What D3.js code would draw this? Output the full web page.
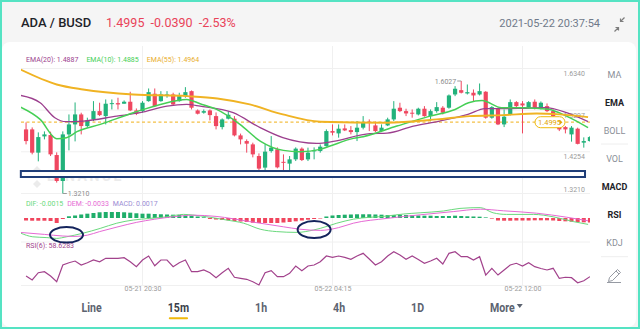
<!DOCTYPE html>
<html><head><meta charset="utf-8">
<script src="https://cdn.jsdelivr.net/npm/d3@7"></script>
<style>
html,body{margin:0;padding:0;background:#f5f5f5;}
svg{display:block;font-family:Roboto,"Noto Sans",sans-serif;}
</style></head><body>
<svg id="chart" width="640" height="329"></svg>
<script>
// ADA/BUSD 15m candles (index 0..92)
const opens = [1.4815,1.4815,1.4233,1.4640,1.4673,1.4173,1.3523,1.4690,1.4940,1.5190,
1.4898,1.5065,1.5273,1.5148,1.5448,1.5473,1.5458,1.5508,1.5290,1.5273,
1.5523,1.5708,1.5523,1.5658,1.5690,1.5523,1.5648,1.5773,1.5290,1.5233,
1.5290,1.5148,1.4873,1.5083,1.5083,1.4665,1.4523,1.4440,1.4148,1.3858,
1.4273,1.4315,1.4003,1.3958,1.4065,1.4333,1.4065,1.4265,1.4273,1.4398,
1.4773,1.4715,1.4840,1.4798,1.4748,1.4858,1.5008,1.4915,1.4773,1.4915,
1.5065,1.5358,1.5273,1.5233,1.5190,1.5333,1.5148,1.5273,1.5358,1.5358,
1.5690,1.5798,1.5715,1.5733,1.5690,1.5758,1.5108,1.5333,1.4940,1.5190,
1.5498,1.5465,1.5358,1.5508,1.5358,1.5398,1.5273,1.4915,1.4873,1.4690,
1.4833,1.4483,1.4523];
const highs = [1.4990,1.4865,1.4740,1.4765,1.4758,1.4240,1.4765,1.5190,1.5490,1.5233,
1.5108,1.5523,1.5483,1.5565,1.5565,1.5608,1.5540,1.5758,1.5340,1.5523,
1.5840,1.5840,1.5773,1.5773,1.5733,1.5733,1.5873,1.5790,1.5315,1.5315,
1.5315,1.5240,1.5090,1.5273,1.5148,1.4710,1.4565,1.4483,1.4215,1.4440,
1.4648,1.4365,1.4190,1.4148,1.4365,1.4365,1.4358,1.4365,1.4440,1.4815,
1.4940,1.4940,1.4940,1.4898,1.5023,1.5148,1.5065,1.5008,1.4940,1.5108,
1.5523,1.5483,1.5333,1.5315,1.5358,1.5398,1.5315,1.5498,1.5398,1.5690,
1.5898,1.6027,1.5940,1.5815,1.5965,1.5773,1.5398,1.5358,1.5315,1.5565,
1.5523,1.5523,1.5523,1.5565,1.5515,1.5465,1.5315,1.5065,1.4898,1.4898,
1.4858,1.4615,1.4648];
const lows = [1.4440,1.4190,1.4015,1.4565,1.4148,1.3483,1.3210,1.4290,1.4515,1.4690,
1.4858,1.5023,1.5148,1.4940,1.5315,1.5315,1.5458,1.5273,1.5173,1.5233,
1.5508,1.5373,1.5508,1.5608,1.5415,1.5508,1.5608,1.5315,1.5190,1.5208,
1.5040,1.4815,1.4815,1.5065,1.4640,1.4440,1.4233,1.4115,1.3790,1.3703,
1.4233,1.3840,1.3773,1.3773,1.4023,1.4023,1.4023,1.4065,1.4233,1.4383,
1.4665,1.4608,1.4773,1.4690,1.4523,1.4815,1.4773,1.4748,1.4748,1.4898,
1.5023,1.5248,1.5148,1.5108,1.5165,1.5133,1.5023,1.5233,1.5190,1.5333,
1.5648,1.5715,1.5690,1.5523,1.5665,1.5083,1.5083,1.4923,1.4873,1.5165,
1.5358,1.4715,1.5340,1.5315,1.5315,1.5248,1.5115,1.4773,1.4715,1.4508,
1.4440,1.4358,1.4508];
const closes = [1.4523,1.4233,1.4623,1.4690,1.4190,1.3523,1.4690,1.4940,1.5190,1.4898,
1.5040,1.5273,1.5173,1.5458,1.5473,1.5440,1.5508,1.5290,1.5208,1.5483,
1.5748,1.5398,1.5690,1.5690,1.5440,1.5648,1.5748,1.5358,1.5208,1.5273,
1.5173,1.4898,1.5065,1.5183,1.4665,1.4565,1.4458,1.4190,1.3833,1.4258,
1.4358,1.3865,1.3978,1.4065,1.4333,1.4048,1.4233,1.4290,1.4383,1.4773,
1.4733,1.4833,1.4790,1.4748,1.4858,1.4983,1.4975,1.4773,1.4858,1.5065,
1.5333,1.5273,1.5215,1.5208,1.5333,1.5148,1.5273,1.5373,1.5233,1.5665,
1.5833,1.5733,1.5748,1.5665,1.5773,1.5108,1.5373,1.4940,1.5133,1.5498,
1.5398,1.5415,1.5498,1.5358,1.5483,1.5273,1.5148,1.4815,1.4815,1.4858,
1.4453,1.4523,1.4623];

// Moving averages as [candle index, price]
const ema10Pts = [[-1,1.538],[2.3,1.5065],[5,1.4583],[6.6,1.4608],[8.3,1.4758],[12.1,1.494],[17.5,1.5233],[21.9,1.544],[26.2,1.5565],[28.4,1.5458],[31.1,1.5315],[34.9,1.494],[38.2,1.4523],[42,1.429],[44.7,1.4258],[48,1.4315],[49.6,1.4398],[53.4,1.459],[55,1.4633],[60.5,1.4898],[65.9,1.5148],[70,1.5315],[72.2,1.5483],[74.4,1.554],[77.6,1.536],[81.2,1.536],[85.2,1.532],[88.2,1.5148],[91.7,1.4858]];
const ema20Pts = [[-1,1.567],[2.3,1.5483],[4.7,1.5108],[6.5,1.5008],[9.3,1.5023],[14.8,1.5148],[18.6,1.5233],[23,1.5398],[26.2,1.544],[28.4,1.5398],[33.8,1.5233],[38.2,1.4858],[41.9,1.4608],[47.4,1.4465],[50.4,1.4523],[56.1,1.4708],[58.9,1.472],[63.2,1.4898],[67.5,1.5023],[72.1,1.519],[74.9,1.5333],[80.3,1.534],[84.7,1.5358],[88.2,1.5233],[91.7,1.5008]];
const ema55Pts = [[-1,1.632],[5,1.594],[9.3,1.5815],[17.5,1.569],[26.3,1.5648],[31.2,1.559],[36.5,1.544],[41.9,1.519],[48,1.5008],[58.9,1.4983],[67,1.5065],[72.4,1.5148],[77.8,1.5173],[83.3,1.5215],[87.1,1.519],[91.7,1.5123]];

// MACD (12,26,9)
const difPts = [[-1,-0.0037],[1.1,-0.0047],[3.4,-0.0049],[5,-0.0051],[6.6,-0.0047],[9.3,-0.0038],[12.1,-0.0026],[14.8,-0.0013],[17.5,-0.0005],[20.2,-0.0001],[23,0.0003],[25.7,0.0009],[27.2,0.00075],[29.5,0.0003],[32.7,-0.0005],[35.5,-0.0013],[38.2,-0.0028],[40.9,-0.0034],[44.2,-0.0036],[46.9,-0.003],[48,-0.0026],[50.7,-0.0013],[53.4,-0.0003],[58.9,0.0005],[61.6,0.001],[64.3,0.0013],[68.1,0.00175],[70.8,0.0024],[74.1,0.0026],[76.2,0.0013],[78.4,0.0009],[82.8,0.0009],[86,0.0003],[89.3,-0.0009],[91.7,-0.0016]];
const demPts = [[-1,-0.0036],[3,-0.0041],[6,-0.0045],[8,-0.0046],[10,-0.0043],[12,-0.0034],[15,-0.0022],[18,-0.0011],[21,-0.0003],[24,0.0003],[27.3,0.0007],[31,0.0004],[36.5,-0.0009],[42,-0.0022],[44.7,-0.0028],[48,-0.0031],[51,-0.0024],[53.4,-0.0013],[58.9,-0.0001],[64.3,0.0008],[69.7,0.0016],[74.1,0.0022],[77.9,0.0018],[83.3,0.0012],[88.2,0.0002],[91.7,-0.0007]];
const macdHist = [-0.00063,-0.00068,-0.00068,-0.00068,-0.00075,-0.00125,-0.00025,
0.00043,0.00063,0.00088,0.00108,0.00125,0.00143,0.0015,0.0015,0.0015,0.00143,0.00133,0.00118,0.00108,0.00108,0.001,0.00093,0.00088,0.00083,0.00075,0.00068,0.00058,0.00038,0.00018,
-0.00025,-0.00038,-0.0005,-0.00058,-0.00075,-0.00088,-0.001,-0.00118,-0.00125,-0.00125,-0.00125,-0.00125,-0.00113,-0.001,-0.00083,-0.00063,-0.00043,-0.00025,-0.00013,
0.00038,0.00063,0.00075,0.00083,0.00088,0.00093,0.00093,0.00093,0.00088,0.00083,0.00075,0.00075,0.00083,0.00075,0.00068,0.00063,0.00058,0.00058,0.0005,0.0005,0.0005,0.00058,0.0005,0.00043,0.00038,0.00033,0.00015,
-0.00015,-0.00063,-0.00068,-0.00068,-0.00063,-0.00063,-0.00063,-0.00058,-0.00058,-0.00058,-0.00063,-0.00075,-0.00083,-0.00093,-0.001,-0.00108,-0.00113];

// RSI(6)
const rsiVals = [35.7,30.0,40.4,41.9,35.7,27.6,51.4,54.7,57.1,51.4,
54.7,58.6,56.1,61.0,61.0,61.0,61.9,56.1,49.0,58.6,
64.3,50.4,58.6,58.6,49.0,54.7,58.6,41.9,41.9,44.3,
40.4,33.3,40.4,46.7,33.9,32.4,31.0,27.6,22.9,40.4,
43.3,34.7,34.7,39.6,50.0,43.3,50.0,51.4,56.1,64.3,
62.4,64.3,62.4,59.6,64.3,68.1,60.0,51.4,56.1,64.3,
70.4,65.7,59.6,64.3,59.3,53.9,57.1,61.0,52.9,68.1,
70.4,63.3,63.3,58.6,63.3,37.1,46.7,37.1,44.3,51.4,
53.9,50.0,54.7,49.0,46.4,44.3,46.7,32.4,33.9,33.3,
26.1,29.0,34.7];

const priceTicks = [1.6340, 1.5297, 1.4254, 1.3210];
const timeTickIdx = [19, 50, 81];
const timeLabels = ["05-21 20:30", "05-22 04:15", "05-22 12:00"];
const lastPrice = 1.4995;
const supportBand = [1.3623, 1.3773];
const headerPair = "ADA / BUSD";
const headerQuote = "1.4995  -0.0390  -2.53%";
const headerTime = "2021-05-22 20:37:54";
const emaLegend = ["EMA(20): 1.4887", "EMA(10): 1.4885", "EMA(55): 1.4964"];
const macdLegend = ["DIF: -0.0015", "DEM: -0.0033", "MACD: 0.0017"];
const rsiLegend = "RSI(6): 58.6283";
const menuItems = ["MA", "EMA", "BOLL", "VOL", "MACD", "RSI", "KDJ"];
const menuActive = ["EMA", "MACD", "RSI"];
const tabs = ["Line", "15m", "1h", "4h", "1D", "More"];
const activeTab = "15m";

const C = {
  up: "#22b27b", down: "#ef4760", ema10: "#45cf55", ema20: "#9c3f8e", ema55: "#f0b323",
  dif: "#6ad97d", dem: "#e66ad4", macd: "#9a8bd3", rsi: "#a2428c", grid: "#f0f0f0",
  axis: "#9b9b9b", navy: "#1f3d78"
};

const svg = d3.select("#chart");

// page, card, frame
svg.append("rect").attr("width", 640).attr("height", 329).attr("fill", "#f5f5f5");
svg.append("rect").attr("x", 2).attr("y", 42).attr("width", 634).attr("height", 285).attr("rx", 8).attr("fill", "#fff");

// header
svg.append("text").attr("x", 21).attr("y", 27).attr("font-size", 13).attr("font-weight", 500)
  .attr("fill", "#1e2329").text(headerPair);
svg.append("text").attr("x", 106).attr("y", 27).attr("font-size", 12.5).attr("fill", "#e94359")
  .attr("xml:space", "preserve").style("white-space", "pre").text(headerQuote);
svg.append("text").attr("x", 600).attr("y", 27).attr("text-anchor", "end").attr("font-size", 11)
  .attr("fill", "#707a8a").text(headerTime);
const ico = svg.append("g").attr("stroke", "#7d7d7d").attr("stroke-width", 1.2).attr("fill", "none");
ico.append("path").attr("d", "M624.5,17.5 L620.5,21.5 M620.5,18.5 L620.5,21.5 L623.5,21.5");
ico.append("path").attr("d", "M614.5,31.5 L618.5,27.5 M618.5,30.5 L618.5,27.5 L615.5,27.5");

// scales
const x = d3.scaleLinear().domain([19, 81]).range([142.5, 522.5]);
const yP = d3.scaleLinear().domain([1.3210, 1.6340]).range([193.5, 68.5]);
const yM = d3.scaleLinear().domain([-0.006, 0.006]).range([242, 194]);
const yR = d3.scaleLinear().domain([20, 80]).range([287, 245]);
const L = 21, R = 590;

const defs = svg.append("defs");
defs.append("clipPath").attr("id", "clipMain").append("rect").attr("x", L).attr("y", 45).attr("width", R - L).attr("height", 149);
defs.append("clipPath").attr("id", "clipMacd").append("rect").attr("x", L).attr("y", 194).attr("width", R - L).attr("height", 48);
defs.append("clipPath").attr("id", "clipRsi").append("rect").attr("x", L).attr("y", 242).attr("width", R - L).attr("height", 44);

// grid
const grid = svg.append("g").attr("stroke", C.grid).attr("stroke-width", 1);
grid.selectAll("line.h").data(priceTicks).join("line").attr("class", "h")
  .attr("x1", L).attr("x2", R).attr("y1", d => yP(d)).attr("y2", d => yP(d));
grid.selectAll("line.v").data(timeTickIdx).join("line").attr("class", "v")
  .attr("x1", d => x(d)).attr("x2", d => x(d)).attr("y1", 46).attr("y2", 285.5);
grid.selectAll("line.s").data([yM.range()[0], 285.5]).join("line").attr("class", "s")
  .attr("x1", L).attr("x2", R).attr("y1", d => d).attr("y2", d => d);

// watermark
const wm = svg.append("g").attr("fill", "#ebebeb");
wm.append("path").attr("d", "M37,166 L43,172 L37,178 L31,172 Z M37,180 L41,184 L37,188 L33,184 Z");
wm.append("text").attr("x", 47).attr("y", 181).attr("font-size", 14).attr("font-weight", 700)
  .attr("letter-spacing", 2.5).text("BINANCE");

// price axis labels
const yAxisG = svg.append("g").attr("transform", "translate(588,0)")
  .call(d3.axisLeft(yP).tickValues(priceTicks).tickSize(0).tickPadding(3).tickFormat(d3.format(".4f")));
yAxisG.select(".domain").remove();
yAxisG.attr("font-family", "Roboto").attr("font-size", 7);
yAxisG.selectAll("text").attr("fill", C.axis).attr("dy", (d, i) => i === priceTicks.length - 1 ? "-0.32em" : "1em");

// time axis labels
const xAxisG = svg.append("g").attr("transform", "translate(0,285)")
  .call(d3.axisBottom(x).tickValues(timeTickIdx).tickSize(0).tickPadding(1.5).tickFormat((d, i) => timeLabels[i]));
xAxisG.select(".domain").remove();
xAxisG.attr("font-family", "Roboto").attr("font-size", 7);
xAxisG.selectAll("text").attr("fill", C.axis);

// legends
function legendRow(y, items, colors, gap) {
  let cx = 26;
  items.forEach((t, i) => {
    const el = svg.append("text").attr("x", cx).attr("y", y).attr("font-size", 7).attr("fill", colors[i]).text(t);
    cx += el.node().getComputedTextLength() + gap;
  });
}
legendRow(62, emaLegend, [C.ema20, C.ema10, "#e8ad2c"], 8);
legendRow(206, macdLegend, [C.dif, C.dem, C.macd], 4);
legendRow(248, [rsiLegend], [C.rsi], 0);

// main pane
const main = svg.append("g").attr("clip-path", "url(#clipMain)");
main.append("line").attr("x1", L).attr("x2", R).attr("y1", yP(lastPrice)).attr("y2", yP(lastPrice))
  .attr("stroke", "#f3c046").attr("stroke-width", 1.2).attr("stroke-dasharray", "3,2.5");

const idx = d3.range(opens.length);
const bw = 4.2;
const color = i => closes[i] >= opens[i] ? C.up : C.down;
main.selectAll("line.wick").data(idx).join("line").attr("class", "wick")
  .attr("x1", i => x(i)).attr("x2", i => x(i))
  .attr("y1", i => yP(highs[i])).attr("y2", i => yP(lows[i]))
  .attr("stroke", color).attr("stroke-width", 1);
main.selectAll("rect.body").data(idx).join("rect").attr("class", "body")
  .attr("x", i => x(i) - bw / 2).attr("width", bw)
  .attr("y", i => yP(Math.max(opens[i], closes[i])))
  .attr("height", i => Math.max(1, Math.abs(yP(opens[i]) - yP(closes[i]))))
  .attr("fill", color);

const emaLine = d3.line().x(d => x(d[0])).y(d => yP(d[1])).curve(d3.curveMonotoneX);
main.append("path").attr("d", emaLine(ema20Pts)).attr("fill", "none").attr("stroke", C.ema20).attr("stroke-width", 1.3);
main.append("path").attr("d", emaLine(ema10Pts)).attr("fill", "none").attr("stroke", C.ema10).attr("stroke-width", 1.5);
main.append("path").attr("d", emaLine(ema55Pts)).attr("fill", "none").attr("stroke", C.ema55).attr("stroke-width", 1.9);

// high / low markers
const hiI = d3.maxIndex(highs), loI = d3.minIndex(lows);
const mk = svg.append("g").attr("font-size", 7).attr("fill", "#8c8c8c");
mk.append("line").attr("x1", x(hiI) - 4).attr("x2", x(hiI)).attr("y1", yP(highs[hiI])).attr("y2", yP(highs[hiI])).attr("stroke", "#9a9a9a");
mk.append("text").attr("x", x(hiI) - 5).attr("y", yP(highs[hiI]) + 2.5).attr("text-anchor", "end").text(d3.format(".4f")(highs[hiI]));
mk.append("line").attr("x1", x(loI)).attr("x2", x(loI) + 4).attr("y1", yP(lows[loI])).attr("y2", yP(lows[loI])).attr("stroke", "#9a9a9a");
mk.append("text").attr("x", x(loI) + 5).attr("y", yP(lows[loI]) + 2).text(d3.format(".4f")(lows[loI]));

// last price tag
const tagY = yP(lastPrice);
const tag = svg.append("g");
tag.append("rect").attr("x", 535).attr("y", tagY - 5.5).attr("width", 30).attr("height", 11).attr("rx", 5.5)
  .attr("fill", "#fff").attr("stroke", "#efb90b").attr("stroke-width", 1);
tag.append("text").attr("x", 538).attr("y", tagY + 2.6).attr("font-size", 7.5).attr("fill", "#e2a500").text(d3.format(".4f")(lastPrice));
tag.append("path").attr("d", `M559.5,${tagY - 2.5} L562.5,${tagY} L559.5,${tagY + 2.5} Z`).attr("fill", "#e2a500");

// support band marker
svg.append("rect").attr("x", x(-0.85)).attr("width", x(91.2) - x(-0.85))
  .attr("y", yP(supportBand[1])).attr("height", yP(supportBand[0]) - yP(supportBand[1]))
  .attr("fill", "#fff").attr("stroke", C.navy).attr("stroke-width", 2);

// MACD pane
const macdG = svg.append("g").attr("clip-path", "url(#clipMacd)");
macdG.selectAll("rect").data(idx).join("rect")
  .attr("x", i => x(i) - 2).attr("width", 4)
  .attr("y", i => Math.min(yM(macdHist[i]), yM(0)))
  .attr("height", i => Math.abs(yM(macdHist[i]) - yM(0)))
  .attr("fill", i => macdHist[i] >= 0 ? "#1fae6a" : "#f0455d");
const mLine = d3.line().x(d => x(d[0])).y(d => yM(d[1])).curve(d3.curveMonotoneX);
macdG.append("path").attr("d", mLine(difPts)).attr("fill", "none").attr("stroke", C.dif).attr("stroke-width", 1);
macdG.append("path").attr("d", mLine(demPts)).attr("fill", "none").attr("stroke", C.dem).attr("stroke-width", 1);

// RSI pane
const rsiG = svg.append("g").attr("clip-path", "url(#clipRsi)");
rsiG.append("path").attr("d", d3.line().x((d, i) => x(i)).y(d => yR(d))(rsiVals))
  .attr("fill", "none").attr("stroke", C.rsi).attr("stroke-width", 1.2);

// crossover circles
const ring = svg.append("g").attr("fill", "none").attr("stroke", "#14245c").attr("stroke-width", 2);
ring.append("ellipse").attr("cx", x(6.6)).attr("cy", yM(-0.0042)).attr("rx", 16.5).attr("ry", 7.8);
ring.append("ellipse").attr("cx", x(47)).attr("cy", yM(-0.0029)).attr("rx", 16.5).attr("ry", 8.5);

// indicator menu
const menuY = d3.scalePoint().domain(menuItems).range([74.3, 242.9]);
svg.append("g").selectAll("text").data(menuItems).join("text")
  .attr("x", 614.5).attr("y", d => menuY(d) + 3.3).attr("text-anchor", "middle").attr("font-size", 9)
  .attr("font-weight", d => menuActive.includes(d) ? 700 : 400)
  .attr("fill", d => menuActive.includes(d) ? "#1e2329" : "#8a8f98").text(d => d);
svg.append("g").attr("stroke", "#eeeeee").selectAll("line").data([144, 256.7]).join("line")
  .attr("x1", 601).attr("x2", 628).attr("y1", d => d).attr("y2", d => d);
svg.append("path").attr("d", "M608.5,281.5 L609.5,277.5 L617.5,269.5 L620.5,272.5 L612.5,280.5 Z M616,271 L619,274 M607,282.5 L621,282.5")
  .attr("fill", "none").attr("stroke", "#8a8f98").attr("stroke-width", 0.9);

// interval tabs
const tabG = svg.append("g");
let tx = 81.6;
tabs.forEach(t => {
  const g = tabG.append("g").attr("transform", `translate(${tx},311.5) scale(0.84,1)`);
  const el = g.append("text").attr("font-size", 12.6).attr("font-weight", 700)
    .attr("fill", t === activeTab ? "#3a404a" : "#5c6370").text(t);
  const w = el.node().getComputedTextLength() * 0.84;
  if (t === activeTab) {
    tabG.append("rect").attr("x", tx + 1).attr("y", 317.3).attr("width", w - 2).attr("height", 2).attr("rx", 1).attr("fill", "#f0b90b");
  }
  if (t === "More") {
    tabG.append("path").attr("d", `M${tx + w + 2},304 L${tx + w + 8},304 L${tx + w + 5},308 Z`).attr("fill", "#5c6370");
  }
  tx += w + 66;
});

// frame
svg.append("rect").attr("x", 1).attr("y", 1).attr("width", 638).attr("height", 327)
  .attr("fill", "none").attr("stroke", "#55e3c3").attr("stroke-width", 2);
</script></body></html>
